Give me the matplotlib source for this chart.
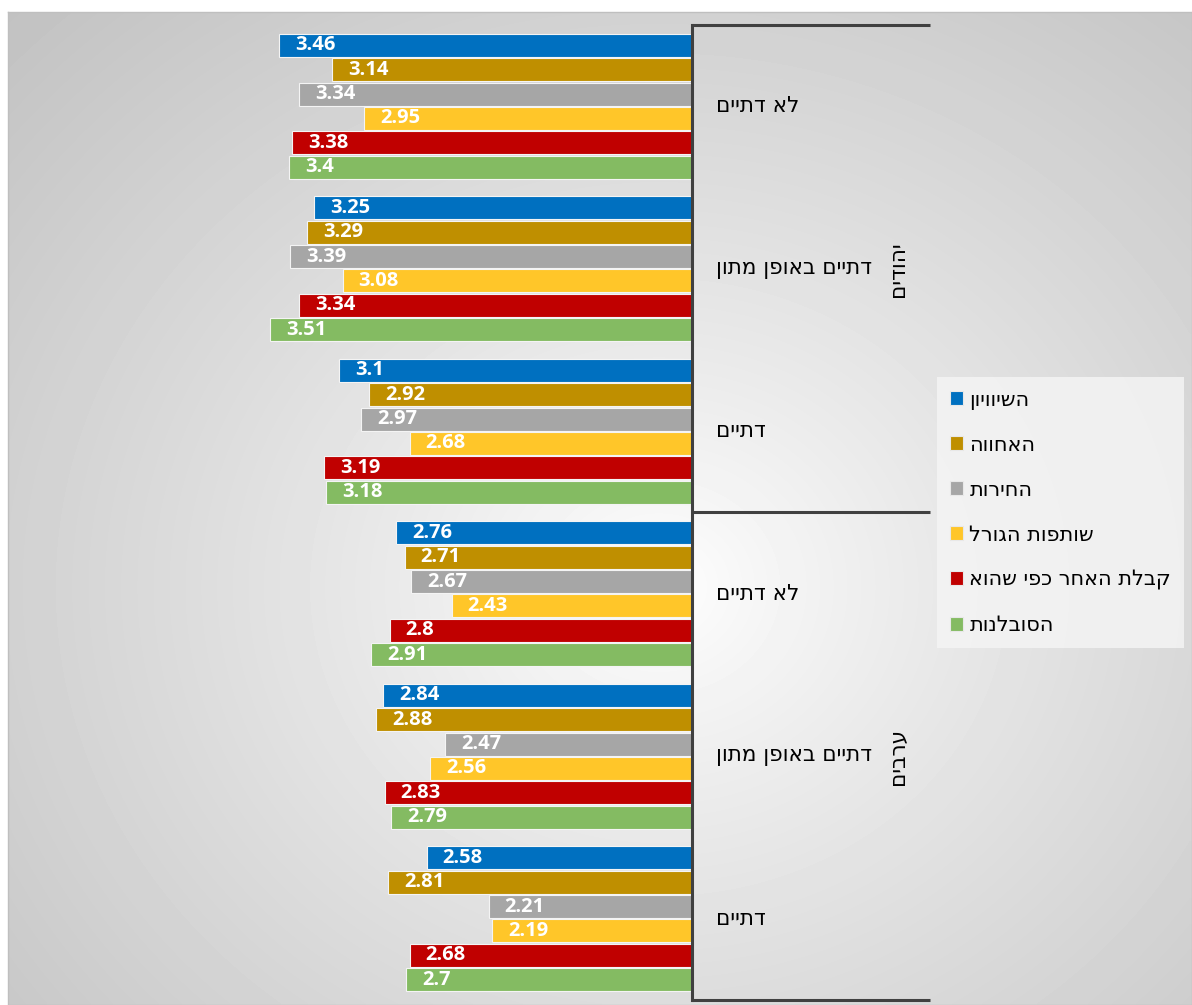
import numpy as np
import matplotlib.pyplot as plt
from matplotlib.patches import Patch


# הופך מחרוזת עברית לסדר תצוגה (matplotlib לא מטפל ב-RTL)
def heb(s):
    return s[::-1]


# נתונים
קטגוריות = ["לא דתיים", "דתיים באופן מתון", "דתיים",
            "לא דתיים", "דתיים באופן מתון", "דתיים"]
קבוצות = ["יהודים", "ערבים"]
סדרות = ["השיוויון", "האחווה", "החירות", "שותפות הגורל",
         "קבלת האחר כפי שהוא", "הסובלנות"]

shivyon = [3.46, 3.25, 3.1, 2.76, 2.84, 2.58]
achva = [3.14, 3.29, 2.92, 2.71, 2.88, 2.81]
cheirut = [3.34, 3.39, 2.97, 2.67, 2.47, 2.21]
shutfut = [2.95, 3.08, 2.68, 2.43, 2.56, 2.19]
kabalat = [3.38, 3.34, 3.19, 2.8, 2.83, 2.68]
sovlanut = [3.4, 3.51, 3.18, 2.91, 2.79, 2.7]
ערכים = [shivyon, achva, cheirut, shutfut, kabalat, sovlanut]

צבעים = ["#0070C0", "#BF8F00", "#A6A6A6", "#FFC629", "#C00000", "#84BB62"]

W, H = 1192, 1005
fig = plt.figure(figsize=(W / 100, H / 100), dpi=100)
fig.patch.set_facecolor("white")

# רקע - גרדיאנט רדיאלי אפור-לבן
bg = fig.add_axes([8 / W, 0, 1 - 8 / W, (H - 12) / H], zorder=-5)
xx, yy = np.meshgrid(np.linspace(0, 1, 300), np.linspace(0, 1, 300))
r = np.sqrt(((xx - 0.55) / 0.55) ** 2 + ((yy - 0.58) / 0.58) ** 2) / np.sqrt(2)
shade = 1 - 0.24 * np.clip(r, 0, 1) ** 0.85
bg.imshow(shade, cmap="gray", vmin=0, vmax=1, extent=[0, 1, 0, 1],
          aspect="auto", interpolation="bilinear")
bg.set_xticks([])
bg.set_yticks([])
for s in bg.spines.values():
    s.set_color("#bfbfbf")
    s.set_linewidth(1)

ax = fig.add_axes([20 / W, 5 / H, 672 / W, 975 / H])
ax.patch.set_alpha(0)

y = np.arange(len(קטגוריות))
step = 0.15
for j, (name, vals) in enumerate(zip(סדרות, ערכים)):
    pos = y + (j - 2.5) * step
    widths = np.array(vals) - 1
    ax.barh(pos, widths, left=1, height=0.142, color=צבעים[j],
            edgecolor="#f4f4f4", linewidth=0.8, label=heb(name))
    for p, v in zip(pos, vals):
        ax.annotate(f"{v:g}", xy=(v, p), xytext=(16, 0),
                    textcoords="offset pixels", ha="left", va="center",
                    color="white", fontsize=14.5, fontweight="bold",
                    family="Open Sans")

ax.set_xlim(5, 1)
ax.set_ylim(5.5, -0.5)
ax.set_xticks([])
ax.set_yticks([])
for side in ["left", "top", "bottom"]:
    ax.spines[side].set_visible(False)
ax.spines["right"].set_color("#404040")
ax.spines["right"].set_linewidth(2.2)

# תוויות קטגוריות
tr = ax.get_yaxis_transform()
for i, c in enumerate(קטגוריות):
    ax.text(1.0357, i, heb(c), transform=tr, ha="left", va="center",
            fontsize=15.5, family="DejaVu Sans", color="black")

# קווי הפרדה של הציר הרב-שלבי
for yb in [-0.5, 2.5, 5.5]:
    ax.plot([1.0, 1.354], [yb, yb], transform=tr, color="#404040",
            lw=2.2, clip_on=False, solid_capstyle="butt")

# תוויות קבוצות
for g, yc in zip(קבוצות, [1, 4]):
    ax.text(1.3065, yc, heb(g), transform=tr, ha="center", va="center",
            rotation=90, fontsize=15.5, family="DejaVu Sans")

handles = [Patch(facecolor=c, edgecolor="#e8e8e8", linewidth=0.8) for c in צבעים]
leg = fig.legend(handles, [heb(s) for s in סדרות], loc="upper left",
                 bbox_to_anchor=(937 / W, 1 - 377 / H),
                 prop={"family": "DejaVu Sans", "size": 15},
                 frameon=True, fancybox=False, handlelength=0.65,
                 handleheight=0.65, handletextpad=0.3, labelspacing=1.2,
                 borderpad=0.6, borderaxespad=0)
leg.get_frame().set_facecolor("#f4f4f4")
leg.get_frame().set_alpha(0.85)
leg.get_frame().set_edgecolor("none")

fig.savefig("out.png", dpi=100)
